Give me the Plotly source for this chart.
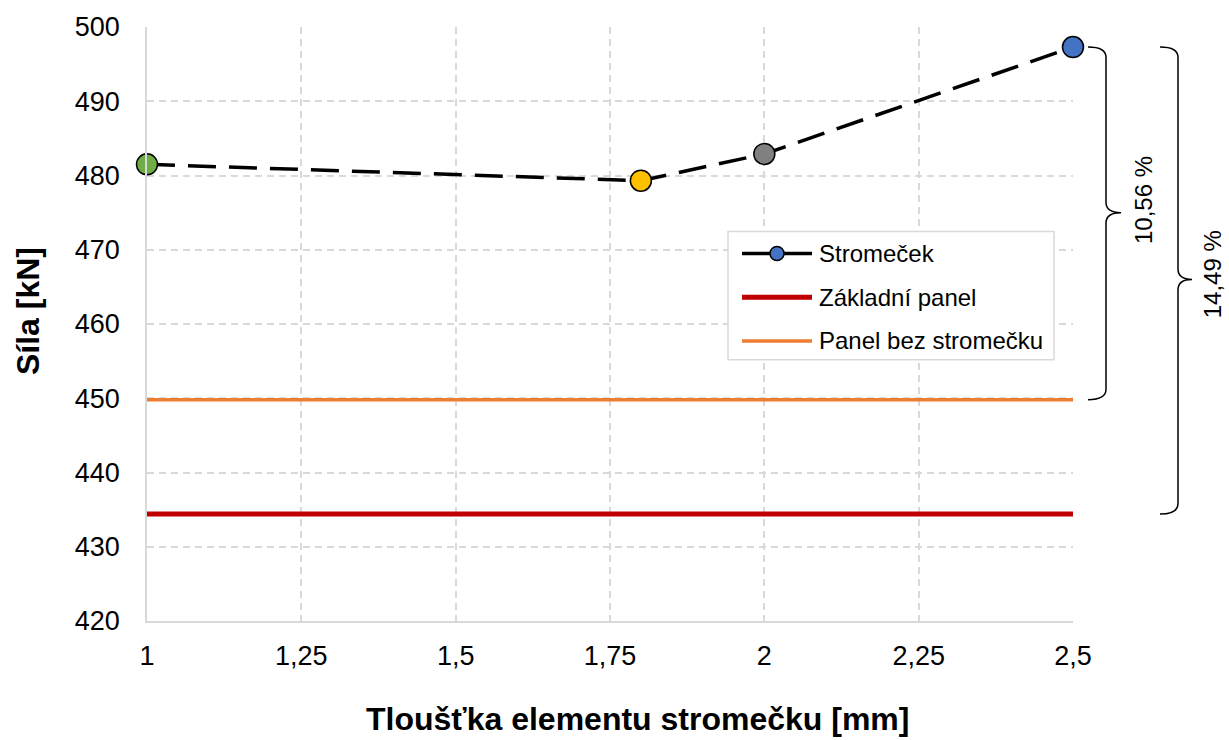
import plotly.graph_objects as go

# data
tloustka = [1.0, 1.8, 2.0, 2.5]
sila = [481.5, 479.3, 482.9, 497.3]
barvy = ["#70AD47", "#FFC000", "#808080", "#4472C4"]

x_range = [1.0, 2.5]
zakladni_panel = 434.4
panel_bez = 449.8

x_ticks = [1, 1.25, 1.5, 1.75, 2, 2.25, 2.5]
x_ticktext = ["1", "1,25", "1,5", "1,75", "2", "2,25", "2,5"]
y_ticks = [420, 430, 440, 450, 460, 470, 480, 490, 500]

legend_names = ["Stromeček", "Základní panel", "Panel bez stromečku"]
pct1 = "10,56 %"
pct2 = "14,49 %"

grid = "#D9D9D9"
font = "Liberation Sans, Arial, sans-serif"
red = "#C00000"
orange = "#ED7D31"

# plot area in pixels (margins)
L, R, T, B = 147, 156, 23, 119
W, H = 1229, 740
pw, ph = W - L - R, H - T - B


def px(x):
    return (x - L) / pw


def py(y):
    return (H - B - y) / ph


fig = go.Figure()

fig.add_trace(go.Scatter(x=x_range, y=[zakladni_panel] * 2, mode="lines",
                         line=dict(color=red, width=5), showlegend=False))
fig.add_trace(go.Scatter(x=x_range, y=[panel_bez] * 2, mode="lines",
                         line=dict(color=orange, width=3.5), showlegend=False))
fig.add_trace(go.Scatter(x=tloustka, y=sila, mode="lines+markers",
                         line=dict(color="black", width=3.5, dash="28px,13px"),
                         marker=dict(size=21, color=barvy,
                                     line=dict(color="black", width=1.5)),
                         cliponaxis=False, showlegend=False))


def brace(x0, x1, x2, ytop, ymid, ybot, d=1.4):
    return (f"M {x0},{ytop} Q {x1},{ytop} {x1},{ytop - d} "
            f"L {x1},{ymid + d} Q {x1},{ymid} {x2},{ymid} "
            f"Q {x1},{ymid} {x1},{ymid - d} "
            f"L {x1},{ybot + d} Q {x1},{ybot} {x0},{ybot}")


top = sila[-1]
fig.add_shape(type="path", xref="paper", yref="y",
              path=brace(px(1088), px(1106), px(1121), top, 475.0, panel_bez),
              line=dict(color="black", width=1.5))
fig.add_shape(type="path", xref="paper", yref="y",
              path=brace(px(1160), px(1178), px(1192), top, 466.0, zakladni_panel),
              line=dict(color="black", width=1.5))

fig.add_annotation(x=px(1143), y=476.7, xref="paper", yref="y", text=pct1,
                   textangle=-90, showarrow=False, xanchor="center", yanchor="middle",
                   font=dict(size=24, color="black", family=font))
fig.add_annotation(x=px(1212), y=466.7, xref="paper", yref="y", text=pct2,
                   textangle=-90, showarrow=False, xanchor="center", yanchor="middle",
                   font=dict(size=24, color="black", family=font))

# legend drawn by hand
fig.add_shape(type="rect", xref="paper", yref="paper",
              x0=px(728), x1=px(1054), y0=py(358), y1=py(229),
              line=dict(color=grid, width=1.5), fillcolor="white", layer="above")
rows = [251, 295, 339]
styles = [("black", 3.5), (red, 5), (orange, 3.5)]
for name, yy, (c, w) in zip(legend_names, rows, styles):
    fig.add_shape(type="line", xref="paper", yref="paper", layer="above",
                  x0=px(742), x1=px(812), y0=py(yy), y1=py(yy),
                  line=dict(color=c, width=w))
    fig.add_annotation(x=px(817), y=py(yy), xref="paper", yref="paper",
                       text=name, showarrow=False, xanchor="left", yanchor="middle",
                       font=dict(size=24, color="black", family=font))
fig.add_shape(type="circle", xref="paper", yref="paper", layer="above",
              xsizemode="pixel", ysizemode="pixel",
              xanchor=px(777), yanchor=py(rows[0]),
              x0=-7, x1=7, y0=-7, y1=7,
              fillcolor=barvy[-1], line=dict(color="black", width=1.5))

# axis titles
fig.add_annotation(x=px(637), y=py(720), xref="paper", yref="paper",
                   text="<b>Tloušťka elementu stromečku [mm]</b>", showarrow=False,
                   xanchor="center", yanchor="middle",
                   font=dict(size=32, color="black", family=font))
fig.add_annotation(x=px(28), y=py(309), xref="paper", yref="paper",
                   text="<b>Síla [kN]</b>", textangle=-90, showarrow=False,
                   xanchor="center", yanchor="middle",
                   font=dict(size=32, color="black", family=font))

fig.update_layout(
    width=W, height=H,
    margin=dict(l=L, r=R, t=T, b=B),
    plot_bgcolor="white", paper_bgcolor="white",
    font=dict(family=font, size=27, color="black"),
    showlegend=False,
    xaxis=dict(range=x_range, tickvals=x_ticks, ticktext=x_ticktext,
               showgrid=True, gridcolor=grid, griddash="7px,5px", gridwidth=1.5,
               showline=True, linecolor=grid, linewidth=1.5, zeroline=False,
               ticks="", ticklabelstandoff=10),
    yaxis=dict(range=[420, 500], tickvals=y_ticks,
               showgrid=True, gridcolor=grid, griddash="7px,5px", gridwidth=1.5,
               showline=True, linecolor=grid, linewidth=1.5, zeroline=False,
               ticks="", ticklabelstandoff=20),
)

fig.write_html("out.html", config={"displayModeBar": False},
               post_script="document.body.style.margin='0';")
